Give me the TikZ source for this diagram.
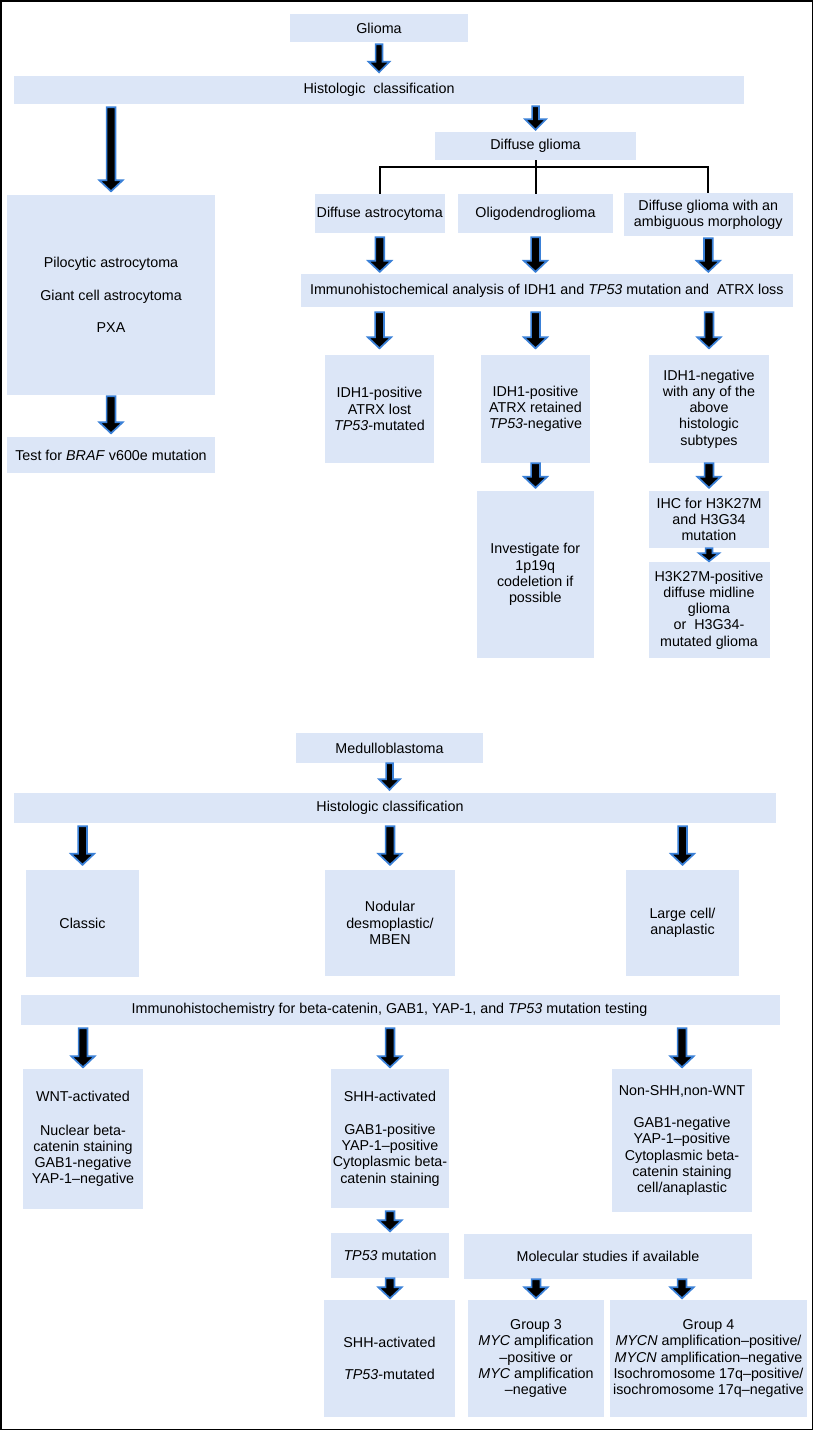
\documentclass[tikz,border=0pt]{standalone}
\usepackage{fontspec}
\setmainfont{Liberation Sans}
\usetikzlibrary{calc}
\definecolor{boxblue}{RGB}{220,230,247}
\definecolor{arrblue}{RGB}{58,128,215}
\tikzset{
  box/.style={fill=boxblue, inner sep=0pt, align=center, font=\fontsize{14.3pt}{16.25pt}\selectfont},
  tree/.style={line width=2pt, black},
  barrow/.style={fill=black, draw=arrblue, line width=1.7pt, line join=miter},
  asw/.code={\def\asw{#1}}, ahw/.code={\def\ahw{#1}}, ahl/.code={\def\ahl{#1}},
  aga/.code={\def\aga{#1}}, agb/.code={\def\agb{#1}},
  bigarr/.style={asw=4.4pt, ahw=11.6pt, ahl=11pt},
  smallarr/.style={asw=3.4pt, ahw=10.4pt, ahl=10.5pt},
  tinyarr/.style={asw=3.4pt, ahw=10pt, ahl=8pt},
}
% box: [opts]{name}{x1}{y1}{x2}{y2}{text}
\newcommand\bx[7][]{\node[box,#1,minimum width={#5-#3},minimum height={#6-#4}] (#2) at ({(#3+#5)/2},{(#4+#6)/2}) {#7};}
% block arrow: [opts]{source}{target}{x reference}
\newcommand\barr[4][]{%
  \path[barrow,aga=2pt,agb=3.5pt,bigarr,#1] let \p1=(#2.south), \p2=(#3.north), \p3=(#4.center) in
  (\x3-\asw,\y1-\aga) -- (\x3+\asw,\y1-\aga) -- (\x3+\asw,\y2+\agb+\ahl) -- (\x3+\ahw,\y2+\agb+\ahl)
  -- (\x3,\y2+\agb) -- (\x3-\ahw,\y2+\agb+\ahl) -- (\x3-\asw,\y2+\agb+\ahl) -- cycle;}
\begin{document}
\begin{tikzpicture}[x=1pt,y=-1pt]
\useasboundingbox (0,0) rectangle (814,1431);
\fill[white] (0,0) rectangle (814,1431);
\draw[line width=1.5pt] (0.9,0.9) rectangle (812.6,1429.6);

% ---------------- Glioma ----------------
\bx{glioma}{290}{14}{468}{42}{Glioma}
\bx{hist1}{14}{76}{744}{104}{Histologic\ \ classification}
\bx{dg}{435}{132}{636}{160}{Diffuse glioma}
\bx{da}{315}{194}{444.5}{233}{Diffuse astrocytoma}
\bx{ol}{458}{194}{613}{233}{Oligodendroglioma}
\bx{amb}{624}{193}{792.6}{236}{Diffuse glioma with an\\ambiguous morphology}
\bx{pil}{7}{195}{215}{395}{Pilocytic astrocytoma\\[16pt]Giant cell astrocytoma\\[16pt]PXA}
\bx{braf}{7}{437}{215}{473}{Test for \textit{BRAF} v600e mutation}
\bx{ihc1}{301}{274}{792.6}{307}{Immunohistochemical analysis of IDH1 and \textit{TP53} mutation and\ \ ATRX loss}
\bx{b1}{325}{355}{434}{463}{IDH1-positive\\ATRX lost\\\textit{TP53}-mutated}
\bx{b2}{481}{355}{590}{463}{IDH1-positive\\ATRX retained\\\textit{TP53}-negative}
\bx{b3}{649}{355}{769}{463}{IDH1-negative\\with any of the\\above\\histologic\\subtypes}
\bx{inv}{476.5}{491}{594}{658}{Investigate for\\1p19q\\codeletion if\\possible}
\bx{h3ihc}{649}{491}{769}{548}{IHC for H3K27M\\and H3G34\\mutation}
\bx{h3pos}{648.5}{562}{769.5}{658}{H3K27M-positive\\diffuse midline\\glioma\\or\ \ H3G34-\\mutated glioma}

\coordinate (tj) at (535.5,167);
\draw[tree] (dg.south) -- (tj);
\draw[tree] (da.north) |- (tj) -| (amb.north);
\draw[tree] (tj) -- (ol.north);

\barr[smallarr]{glioma}{hist1}{glioma}
\barr[aga=3pt]{hist1}{pil}{pil}
\barr[smallarr,agb=2pt]{hist1}{dg}{dg}
\barr[aga=1pt]{pil}{braf}{pil}
\barr[aga=4pt,agb=2pt]{da}{ihc1}{da}
\barr[aga=4pt,agb=2pt]{ol}{ihc1}{ol}
\barr[aga=2pt,agb=2pt]{amb}{ihc1}{amb}
\barr[aga=5pt,agb=6.5pt]{ihc1}{b1}{b1}
\barr[aga=5pt,agb=6.5pt]{ihc1}{b2}{b2}
\barr[aga=5pt,agb=6.5pt]{ihc1}{b3}{b3}
\barr[aga=0pt,agb=3pt]{b2}{inv}{b2}
\barr[aga=0pt,agb=3pt]{b3}{h3ihc}{b3}
\barr[tinyarr,aga=0pt,agb=0.5pt]{h3ihc}{h3pos}{h3ihc}

% ---------------- Medulloblastoma ----------------
\bx{medullo}{296}{733}{483}{763}{Medulloblastoma}
\bx{hist2}{14}{793}{776}{823}{\kern-10pt Histologic classification}
\bx{classic}{26}{870}{139}{977}{Classic}
\bx{nodular}{325}{870}{455}{976}{Nodular\\desmoplastic/\\MBEN}
\bx{large}{626}{870}{739}{976}{Large cell/\\anaplastic}
\bx{ihc2}{21}{995}{780}{1025}{\kern-22pt Immunohistochemistry for beta-catenin, GAB1, YAP-1, and \textit{TP53} mutation testing}
\bx{wnt}{23}{1069}{143}{1209}{WNT-activated\\[17.5pt]Nuclear beta-\\catenin staining\\GAB1-negative\\YAP-1–negative}
\bx{shh}{331}{1069}{449}{1208}{SHH-activated\\[17pt]GAB1-positive\\YAP-1–positive\\Cytoplasmic beta-\\catenin staining}
\bx{nonshh}{612}{1069}{752}{1212}{Non-SHH,non-WNT\\[16pt]GAB1-negative\\YAP-1–positive\\Cytoplasmic beta-\\catenin staining\\cell/anaplastic}
\bx{tp53}{331}{1233}{449}{1278}{\textit{TP53} mutation}
\bx{mol}{464}{1234}{752}{1279}{Molecular studies if available}
\bx{shhtp}{324}{1300}{455}{1417}{SHH-activated\\[16pt]\textit{TP53}-mutated}
\bx{gthree}{468}{1300}{604}{1417}{Group 3\\\textit{MYC} amplification\\–positive or\\\textit{MYC} amplification\\–negative}
\bx{gfour}{610}{1300}{807}{1417}{Group 4\\\textit{MYCN} amplification–positive/\\\textit{MYCN} amplification–negative\\Isochromosome 17q–positive/\\isochromosome 17q–negative}

\barr[smallarr,aga=0pt,agb=3pt]{medullo}{hist2}{medullo}
\barr[aga=3pt,agb=5pt]{hist2}{classic}{classic}
\barr[aga=3pt,agb=5pt]{hist2}{nodular}{nodular}
\barr[aga=3pt,agb=5pt]{hist2}{large}{large}
\barr[aga=3pt,agb=1.5pt]{ihc2}{wnt}{wnt}
\barr[aga=3pt,agb=1.5pt]{ihc2}{shh}{shh}
\barr[aga=3pt,agb=1.5pt]{ihc2}{nonshh}{nonshh}
\barr[aga=3pt,agb=1.5pt]{shh}{tp53}{shh}
\barr[aga=0pt,agb=1.5pt]{tp53}{shhtp}{tp53}
\barr[aga=0pt,agb=1.5pt]{mol}{gthree}{gthree}
\barr[aga=0pt,agb=1.5pt]{mol}{gfour}{nonshh}
\end{tikzpicture}
\end{document}
